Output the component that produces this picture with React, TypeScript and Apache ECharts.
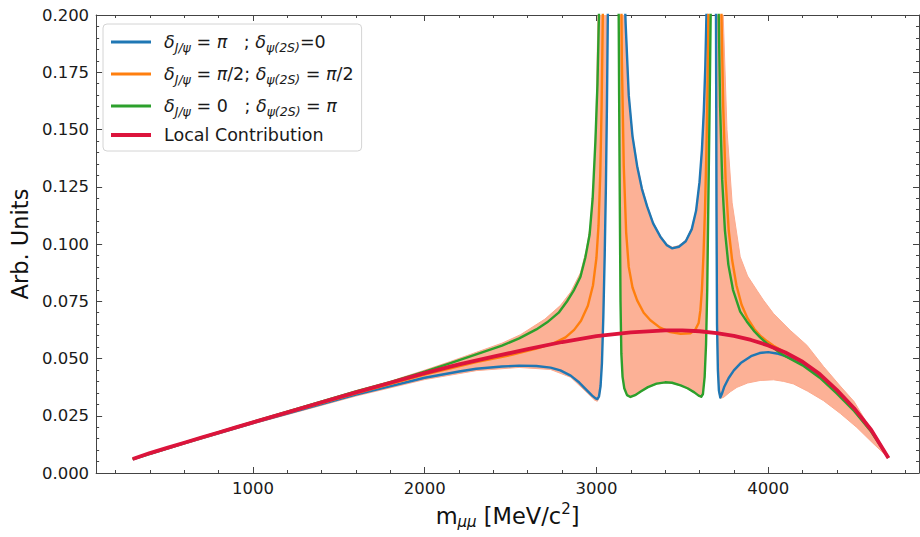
import React, { useEffect, useRef } from 'react';
import * as echarts from 'echarts';

const FONT = 'DejaVu Sans';
const X_MIN = 87;
const X_MAX = 4878;
const Y_MIN = 0;
const Y_MAX = 0.2;

const xMajorTicks = [1000, 2000, 3000, 4000];
const xMinorTicks = [200, 400, 600, 800, 1200, 1400, 1600, 1800, 2200, 2400, 2600, 2800, 3200, 3400, 3600, 3800, 4200, 4400, 4600, 4800];
const yMajorTicks = [0, 0.025, 0.05, 0.075, 0.1, 0.125, 0.15, 0.175, 0.2];
const yMinorTicks = [0.005, 0.01, 0.015, 0.02, 0.03, 0.035, 0.04, 0.045, 0.055, 0.06, 0.065, 0.07, 0.08, 0.085, 0.09, 0.095,
  0.105, 0.11, 0.115, 0.12, 0.13, 0.135, 0.14, 0.145, 0.155, 0.16, 0.165, 0.17, 0.18, 0.185, 0.19, 0.195];

const seriesNames = ['phase1', 'phase2', 'phase3', 'Local Contribution'];
const seriesColors = ['#1f77b4', '#ff7f0e', '#2ca02c', '#dc143c'];

// Local contribution (red)
const localCurve: [number, number][] = [
  [300, 0.0061], [400, 0.0087], [500, 0.0110], [600, 0.0132], [700, 0.0155], [800, 0.0177], [900, 0.0199],
  [1000, 0.0221], [1200, 0.0265], [1400, 0.0309], [1600, 0.0352], [1800, 0.0394], [2000, 0.0436], [2200, 0.0474],
  [2400, 0.0508], [2600, 0.0541], [2800, 0.0572], [3000, 0.0598], [3200, 0.0614], [3400, 0.0623], [3500, 0.0623],
  [3600, 0.0619], [3700, 0.0611], [3800, 0.0599], [3900, 0.0581], [4000, 0.0557], [4100, 0.0526], [4200, 0.0486],
  [4300, 0.0432], [4400, 0.0362], [4500, 0.0283], [4600, 0.0188], [4700, 0.0066],
];

// delta J/psi = pi ; delta psi(2S) = 0 (blue)
const blueCurve: [number, number][] = [
  [300, 0.0060], [600, 0.0129], [1000, 0.0218], [1600, 0.0342], [2000, 0.0416], [2200, 0.0443], [2300, 0.0455],
  [2450, 0.0465], [2550, 0.0469], [2650, 0.0467], [2733, 0.0460], [2790, 0.0448], [2850, 0.0425], [2900, 0.0395],
  [2946, 0.0360], [2975, 0.0338], [2995, 0.0326], [3005, 0.0323], [3015, 0.0335], [3024, 0.0380], [3032, 0.0480],
  [3040, 0.0680], [3048, 0.0950], [3055, 0.1250], [3061, 0.1600], [3067, 0.2050], [3075, 0.30], [3085, 0.55],
  [3097, 1.0], [3110, 0.60], [3125, 0.40], [3140, 0.29], [3155, 0.230], [3170, 0.196], [3188, 0.165], [3210, 0.147],
  [3237, 0.134], [3265, 0.124], [3295, 0.1164], [3330, 0.1090], [3372, 0.1032], [3410, 0.0995], [3440, 0.0981],
  [3480, 0.0988], [3520, 0.1012], [3555, 0.1065], [3580, 0.1145], [3600, 0.1270], [3614, 0.1410], [3625, 0.1580],
  [3634, 0.1780], [3641, 0.2020], [3650, 0.26], [3662, 0.40], [3675, 0.70], [3686, 1.2], [3690, 0.60], [3693, 0.32],
  [3696, 0.20], [3699, 0.115], [3702, 0.065], [3707, 0.045], [3713, 0.036], [3721, 0.0330], [3730, 0.0345],
  [3745, 0.0378], [3770, 0.0415], [3800, 0.0448], [3840, 0.0480], [3900, 0.0510], [3950, 0.0524], [4000, 0.0528],
  [4050, 0.0522], [4100, 0.0510], [4150, 0.0494], [4200, 0.0478], [4300, 0.0427], [4400, 0.0358], [4500, 0.0281],
  [4600, 0.0187], [4700, 0.0066],
];

// delta J/psi = pi/2 ; delta psi(2S) = pi/2 (orange)
const orangeCurve: [number, number][] = [
  [300, 0.0061], [600, 0.0131], [1000, 0.0220], [1600, 0.0348], [2000, 0.0430], [2300, 0.0484], [2500, 0.0515],
  [2650, 0.0543], [2750, 0.0566], [2820, 0.0592], [2870, 0.0625], [2910, 0.0665], [2950, 0.0730], [2980, 0.0820],
  [3000, 0.0940], [3012, 0.1080], [3022, 0.1300], [3030, 0.1600], [3037, 0.2000], [3047, 0.30], [3060, 0.50],
  [3080, 0.90], [3097, 1.2], [3115, 0.9], [3130, 0.40], [3140, 0.25], [3148, 0.18], [3159, 0.134], [3173, 0.105],
  [3188, 0.090], [3210, 0.081], [3237, 0.0754], [3275, 0.0700], [3314, 0.0667], [3370, 0.0635], [3430, 0.0615],
  [3490, 0.0608], [3547, 0.0610], [3575, 0.0625], [3595, 0.0655], [3605, 0.0710], [3614, 0.0800], [3623, 0.0950],
  [3632, 0.1150], [3640, 0.1400], [3646, 0.1650], [3652, 0.2000], [3662, 0.30], [3686, 1.2], [3705, 0.50],
  [3718, 0.27], [3728, 0.20], [3738, 0.160], [3752, 0.128], [3770, 0.106], [3790, 0.093], [3815, 0.082],
  [3845, 0.0735], [3880, 0.0675], [3920, 0.0628], [3953, 0.0600], [3992, 0.0576], [4031, 0.0556], [4090, 0.0530],
  [4150, 0.0503], [4200, 0.0485], [4300, 0.0431], [4400, 0.0361], [4500, 0.0283], [4600, 0.0188], [4700, 0.0066],
];

// delta J/psi = 0 ; delta psi(2S) = pi (green)
const greenCurve: [number, number][] = [
  [300, 0.0062], [600, 0.0133], [1000, 0.0223], [1600, 0.0356], [1800, 0.0397], [2000, 0.0443], [2150, 0.0480],
  [2300, 0.0518], [2450, 0.0556], [2550, 0.0588], [2650, 0.0627], [2713, 0.0658], [2780, 0.0700], [2829, 0.0750],
  [2870, 0.0800], [2907, 0.0857], [2935, 0.0940], [2960, 0.1040], [2978, 0.1200], [2994, 0.1450], [3006, 0.1700],
  [3016, 0.2050], [3028, 0.30], [3050, 0.60], [3075, 1.2], [3097, 1.5], [3110, 0.60], [3122, 0.32], [3128, 0.22],
  [3132, 0.165], [3136, 0.118], [3140, 0.075], [3145, 0.052], [3152, 0.042], [3162, 0.0370], [3178, 0.0340],
  [3198, 0.0332], [3225, 0.0340], [3260, 0.0357], [3300, 0.0375], [3350, 0.0390], [3400, 0.0396], [3440, 0.0394],
  [3490, 0.0383], [3530, 0.0370], [3570, 0.0352], [3595, 0.0338], [3610, 0.0333], [3620, 0.0345], [3630, 0.0420],
  [3638, 0.0560], [3645, 0.0800], [3651, 0.1150], [3658, 0.1550], [3665, 0.2000], [3674, 0.30], [3686, 1.2],
  [3698, 0.50], [3706, 0.27], [3712, 0.20], [3720, 0.160], [3732, 0.128], [3748, 0.106], [3768, 0.091],
  [3795, 0.080], [3837, 0.0705], [3875, 0.0662], [3920, 0.0618], [3953, 0.0592], [3992, 0.0566], [4031, 0.0546],
  [4070, 0.0524], [4100, 0.0510], [4200, 0.0470], [4300, 0.0416], [4400, 0.0347], [4500, 0.0271], [4600, 0.0180],
  [4700, 0.0066],
];

// Envelope band (upper edge, left to right)
const bandUpper: [number, number][] = [
  [300, 0.0063], [1000, 0.0226], [1600, 0.0360], [1800, 0.0401], [2000, 0.0449], [2150, 0.0487], [2300, 0.0527],
  [2450, 0.0567], [2558, 0.0604], [2700, 0.0672], [2791, 0.0732], [2850, 0.0790], [2907, 0.0875], [2940, 0.0970],
  [2965, 0.1085], [2985, 0.1290], [2998, 0.1560], [3010, 0.2050], [3025, 0.32], [3060, 0.8], [3097, 1.6],
  [3125, 0.41], [3140, 0.295], [3155, 0.233], [3170, 0.198], [3188, 0.166], [3210, 0.148], [3237, 0.135],
  [3265, 0.125], [3295, 0.1170], [3330, 0.1095], [3372, 0.1037], [3410, 0.1000], [3440, 0.0986], [3480, 0.0993],
  [3520, 0.1017], [3555, 0.1070], [3580, 0.1150], [3600, 0.1275], [3614, 0.1415], [3625, 0.1585], [3634, 0.1785],
  [3641, 0.2025], [3650, 0.26], [3662, 0.40], [3675, 0.70], [3686, 1.6], [3705, 0.60], [3720, 0.32], [3738, 0.20],
  [3760, 0.150], [3790, 0.118], [3837, 0.0944], [3880, 0.0860], [3934, 0.0798], [3972, 0.0755], [4031, 0.0696],
  [4128, 0.0623], [4225, 0.0558], [4322, 0.0465], [4419, 0.0380], [4500, 0.0312], [4612, 0.0172], [4700, 0.0068],
];

// Envelope band (lower edge, left to right)
const bandLower: [number, number][] = [
  [300, 0.0059], [1000, 0.0214], [1600, 0.0336], [2000, 0.0408], [2300, 0.0447], [2550, 0.0461], [2733, 0.0452],
  [2850, 0.0418], [2946, 0.0350], [2990, 0.0318], [3005, 0.0313], [3015, 0.0327], [3024, 0.0372], [3032, 0.0472],
  [3040, 0.0672], [3048, 0.0942], [3055, 0.1242], [3061, 0.1592], [3067, 0.2042], [3080, 0.40], [3097, 0.9],
  [3115, 0.42], [3122, 0.32], [3128, 0.22], [3132, 0.165], [3136, 0.118], [3140, 0.075], [3145, 0.052],
  [3152, 0.042], [3162, 0.0368], [3178, 0.0338], [3198, 0.0330], [3225, 0.0338], [3260, 0.0355], [3300, 0.0373],
  [3350, 0.0388], [3400, 0.0394], [3440, 0.0392], [3490, 0.0381], [3530, 0.0368], [3570, 0.0350], [3595, 0.0336],
  [3610, 0.0331], [3620, 0.0343], [3630, 0.0418], [3638, 0.0558], [3645, 0.0798], [3651, 0.1148], [3658, 0.1548],
  [3665, 0.2000], [3675, 0.32], [3686, 0.9], [3690, 0.60], [3693, 0.32], [3696, 0.20], [3699, 0.115], [3702, 0.065],
  [3707, 0.044], [3713, 0.035], [3721, 0.0326], [3740, 0.0330], [3780, 0.0355], [3818, 0.0374], [3880, 0.0393],
  [3953, 0.0404], [4031, 0.0407], [4090, 0.0400], [4147, 0.0389], [4230, 0.0357], [4322, 0.0316], [4420, 0.0260],
  [4516, 0.0199], [4610, 0.0130], [4700, 0.0066],
];

const legendRich: Record<string, string> = {
  phase1: '{sp| }{m|δ}{s|J/ψ}{t| = }{m|π}{t|   ; }{m|δ}{s|ψ(2S)}{t|=0}',
  phase2: '{sp| }{m|δ}{s|J/ψ}{t| = }{m|π}{t|/2; }{m|δ}{s|ψ(2S)}{t| = }{m|π}{t|/2}',
  phase3: '{sp| }{m|δ}{s|J/ψ}{t| = 0   ; }{m|δ}{s|ψ(2S)}{t| = }{m|π}',
  'Local Contribution': '{sp| }{t|Local Contribution}',
};

const AXIS_COLOR = '#444';
const LABEL_COLOR = '#1a1a1a';

function makeX(position: 'bottom' | 'top', ticks: number[], len: number, showLine: boolean, labels: boolean, extra: any = {}) {
  return {
    type: 'value', position, min: X_MIN, max: X_MAX,
    axisLine: { show: showLine, onZero: false, lineStyle: { color: AXIS_COLOR, width: 1 } },
    axisTick: { show: true, inside: true, length: len, customValues: ticks, lineStyle: { color: AXIS_COLOR, width: 1 } },
    axisLabel: labels
      ? { show: true, customValues: ticks, formatter: (v: number) => String(v), fontFamily: FONT, fontSize: 16.5, color: LABEL_COLOR, margin: 7 }
      : { show: false },
    splitLine: { show: false },
    ...extra,
  };
}

function makeY(position: 'left' | 'right', ticks: number[], len: number, showLine: boolean, labels: boolean, extra: any = {}) {
  return {
    type: 'value', position, min: Y_MIN, max: Y_MAX,
    axisLine: { show: showLine, onZero: false, lineStyle: { color: AXIS_COLOR, width: 1 } },
    axisTick: { show: true, inside: true, length: len, customValues: ticks, lineStyle: { color: AXIS_COLOR, width: 1 } },
    axisLabel: labels
      ? { show: true, customValues: ticks, formatter: (v: number) => v.toFixed(3), fontFamily: FONT, fontSize: 16.5, color: LABEL_COLOR, margin: 7 }
      : { show: false },
    splitLine: { show: false },
    ...extra,
  };
}

export default function App() {
  const ref = useRef<HTMLDivElement>(null);
  useEffect(() => {
    if (!ref.current) return;
    const chart = echarts.init(ref.current, undefined, { renderer: 'svg' });
    const curves = [blueCurve, orangeCurve, greenCurve, localCurve];
    const option: any = {
      animation: false,
      backgroundColor: '#ffffff',
      grid: { left: 95, right: 1, top: 15, bottom: 64, containLabel: false },
      xAxis: [
        makeX('bottom', xMajorTicks, 6, true, true, {
          name: '{n|m}{s|μμ}{n| [MeV/c}{p|2}{n|]}',
          nameLocation: 'middle',
          nameGap: 27,
          nameTextStyle: {
            rich: {
              n: { fontFamily: FONT, fontSize: 22.5, color: '#111', lineHeight: 28 },
              s: { fontFamily: FONT, fontSize: 15, fontStyle: 'italic', color: '#111', lineHeight: 28, padding: [12, 0, 0, 0] },
              p: { fontFamily: FONT, fontSize: 15, color: '#111', lineHeight: 28, padding: [0, 0, 14, 0] },
            },
          },
        }),
        makeX('bottom', xMinorTicks, 3, false, false),
        makeX('top', xMajorTicks, 6, true, false),
        makeX('top', xMinorTicks, 3, false, false),
      ],
      yAxis: [
        makeY('left', yMajorTicks, 6, true, true, {
          name: 'Arb. Units',
          nameLocation: 'middle',
          nameGap: 61,
          nameTextStyle: { fontFamily: FONT, fontSize: 22.5, color: '#111' },
        }),
        makeY('left', yMinorTicks, 3, false, false),
        makeY('right', yMajorTicks, 6, true, false),
        makeY('right', yMinorTicks, 3, false, false),
      ],
      legend: {
        data: seriesNames.map((n, i) => ({ name: n, lineStyle: { width: i === 3 ? 4 : 3, color: seriesColors[i] } })),
        left: 103,
        top: 24,
        orient: 'vertical',
        itemWidth: 40,
        itemHeight: 14,
        itemGap: 8,
        padding: [6, 8, 7, 6],
        backgroundColor: 'rgba(255,255,255,0.85)',
        borderColor: '#d4d4d4',
        borderWidth: 1,
        borderRadius: 4,
        itemStyle: { opacity: 0, borderWidth: 0 },
        formatter: (name: string) => legendRich[name],
        textStyle: {
          fontFamily: FONT,
          fontSize: 17.5,
          color: '#1a1a1a',
          rich: {
            sp: { width: 8, fontSize: 17.5, lineHeight: 22 },
            t: { fontFamily: FONT, fontSize: 17.5, color: '#1a1a1a', lineHeight: 22 },
            m: { fontFamily: FONT, fontSize: 17.5, fontStyle: 'italic', color: '#1a1a1a', lineHeight: 22 },
            s: { fontFamily: FONT, fontSize: 12.5, fontStyle: 'italic', color: '#1a1a1a', lineHeight: 22, padding: [11, 0, 0, 0] },
          },
        },
      },
      series: [
        {
          type: 'custom',
          name: 'band',
          xAxisIndex: 0,
          yAxisIndex: 0,
          silent: true,
          z: 1,
          data: [bandUpper[0]],
          renderItem: (params: any, api: any) => {
            const pts: number[][] = bandUpper.map((p) => api.coord(p));
            for (let i = bandLower.length - 1; i >= 0; i--) pts.push(api.coord(bandLower[i]));
            const cs = params.coordSys;
            return {
              type: 'polygon',
              shape: { points: pts },
              style: { fill: '#fcb196', stroke: '#fcab8f', lineWidth: 1, lineJoin: 'round' },
              clipPath: { type: 'rect', shape: { x: cs.x, y: cs.y, width: cs.width, height: cs.height } },
            };
          },
        },
        ...curves.map((c, i) => ({
          type: 'line',
          name: seriesNames[i],
          xAxisIndex: 0,
          yAxisIndex: 0,
          data: c,
          symbol: 'none',
          clip: true,
          z: 2 + i,
          lineStyle: { color: seriesColors[i], width: i === 3 ? 3.8 : 2.4, join: 'round' },
          itemStyle: { color: seriesColors[i] },
        })),
      ],
    };
    chart.setOption(option);
    return () => chart.dispose();
  }, []);
  return (
    <div
      ref={ref}
      style={{ position: 'fixed', left: 0, top: 0, width: 920, height: 537, background: '#fff' }}
    />
  );
}
